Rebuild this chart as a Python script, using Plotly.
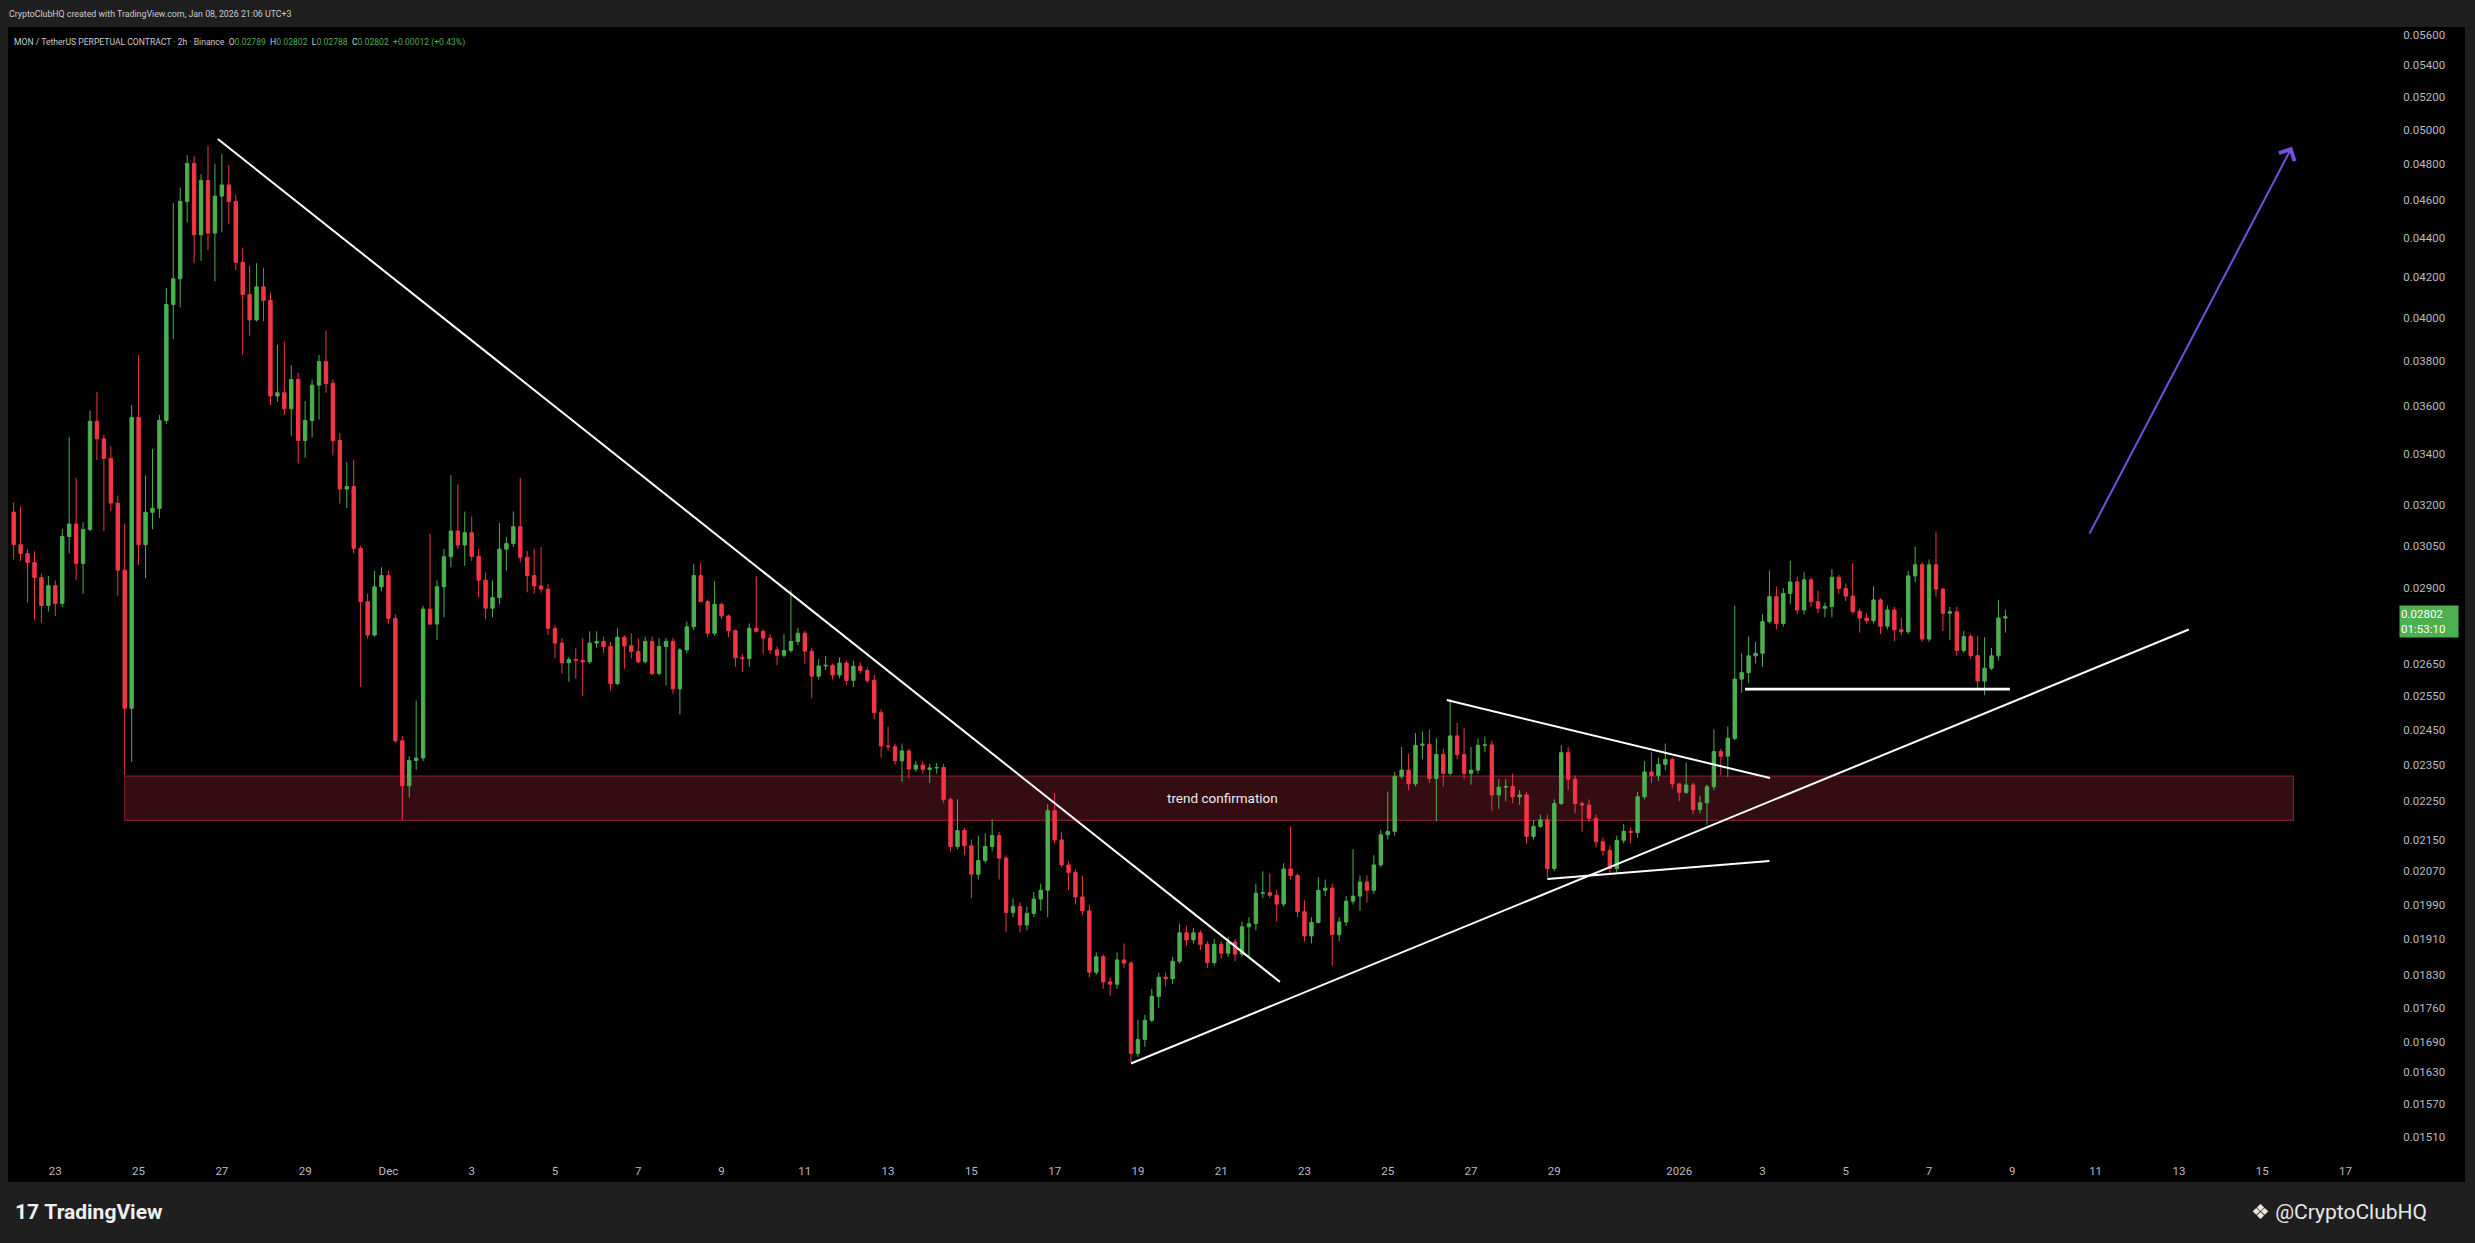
import numpy as np
import pandas as pd
import plotly.graph_objects as go

# MON / USDT perpetual, 4h candles (prices in 1e-5 USDT)
start_time = "2025-11-22 00:00"
first_open = 3174
closes = [
    3053, 3021, 2989, 2936, 2840, 2908, 2847, 3083, 3129, 2986,
    3109, 3536, 3463, 3383, 3208, 2962, 2513, 3552, 3053, 3173,
    3188, 3539, 4063, 4189, 4593, 4806, 4414, 4709, 4423, 4622,
    4684, 4593, 4272, 4111, 3989, 4149, 4083, 3644, 3658, 3589,
    3716, 3456, 3539, 3691, 3796, 3699, 3456, 3262, 3272, 3040,
    2853, 2742, 2904, 2943, 2797, 2418, 2292, 2362, 2369, 2828,
    2778, 2904, 3010, 3103, 3052, 3097, 3011, 2927, 2831, 2867,
    3037, 3057, 3119, 3008, 2943, 2907, 2896, 2764, 2716, 2653,
    2663, 2661, 2656, 2716, 2721, 2705, 2588, 2735, 2707, 2689,
    2656, 2721, 2619, 2705, 2721, 2572, 2694, 2769, 2943, 2853,
    2748, 2844, 2805, 2756, 2669, 2666, 2764, 2754, 2732, 2694,
    2677, 2692, 2721, 2748, 2690, 2611, 2643, 2645, 2615, 2652,
    2598, 2642, 2629, 2598, 2500, 2403, 2401, 2361, 2389, 2338,
    2349, 2337, 2341, 2342, 2255, 2132, 2173, 2134, 2063, 2097,
    2132, 2160, 2103, 1971, 1985, 1942, 1969, 2003, 2024, 2225,
    2149, 2086, 2067, 2008, 1975, 1836, 1870, 1815, 1810, 1863,
    1856, 1667, 1695, 1734, 1784, 1825, 1822, 1860, 1924, 1908,
    1924, 1898, 1857, 1898, 1878, 1903, 1876, 1938, 1945, 2017,
    2018, 2012, 1991, 2076, 2060, 1973, 1917, 1948, 2024, 2029,
    1920, 1949, 1998, 2010, 2044, 2024, 2086, 2162, 2171, 2318,
    2335, 2297, 2405, 2408, 2312, 2379, 2326, 2432, 2379, 2326,
    2335, 2405, 2406, 2267, 2288, 2290, 2262, 2267, 2158, 2184,
    2201, 2077, 2244, 2384, 2310, 2244, 2240, 2205, 2144, 2122,
    2077, 2148, 2171, 2168, 2262, 2330, 2320, 2351, 2365, 2297,
    2274, 2294, 2228, 2246, 2289, 2387, 2374, 2425, 2602, 2622,
    2675, 2683, 2786, 2870, 2780, 2881, 2921, 2825, 2928, 2853,
    2831, 2837, 2937, 2898, 2872, 2820, 2798, 2789, 2859, 2771,
    2825, 2759, 2753, 2942, 2981, 2729, 2981, 2896, 2814, 2819,
    2692, 2737, 2676, 2596, 2636, 2675, 2798, 2802,
]
highs = [
    3210, 3195, 3037, 3029, 2950, 2942, 2926, 3110, 3469, 3306,
    3136, 3581, 3662, 3480, 3432, 3237, 3130, 3605, 3826, 3315,
    3422, 3562, 4144, 4584, 4670, 4852, 4847, 4744, 4909, 4804,
    4860, 4796, 4632, 4347, 4255, 4267, 4244, 4120, 3873, 3887,
    3780, 3746, 3622, 3716, 3826, 3940, 3716, 3487, 3368, 3377,
    3050, 2880, 2960, 2972, 2960, 2810, 2431, 2374, 2536, 2839,
    3094, 2926, 3038, 3316, 3280, 3176, 3157, 3038, 2954, 2926,
    3133, 3082, 3176, 3305, 3030, 3037, 3044, 2913, 2775, 2732,
    2672, 2699, 2732, 2754, 2754, 2737, 2721, 2764, 2742, 2748,
    2732, 2737, 2737, 2732, 2732, 2732, 2700, 2786, 2985, 2990,
    2860, 2924, 2850, 2810, 2760, 2680, 2780, 2940, 2760, 2745,
    2705, 2745, 2893, 2765, 2755, 2700, 2665, 2675, 2650, 2670,
    2660, 2660, 2655, 2640, 2615, 2510, 2459, 2410, 2410, 2395,
    2360, 2360, 2352, 2355, 2352, 2260, 2255, 2180, 2150, 2160,
    2165, 2202, 2170, 2110, 2005, 1995, 1985, 2020, 2040, 2242,
    2271, 2170, 2095, 2075, 2060, 1990, 1880, 1875, 1825, 1880,
    1900, 1860, 1735, 1745, 1800, 1835, 1835, 1870, 1945, 1940,
    1935, 1930, 1905, 1910, 1905, 1915, 1910, 1950, 1960, 2040,
    2070, 2065, 2025, 2090, 2185, 2065, 2000, 1960, 2056, 2050,
    2040, 1960, 2010, 2125, 2060, 2060, 2110, 2175, 2276, 2330,
    2400, 2380, 2440, 2445, 2450, 2425, 2395, 2541, 2470, 2455,
    2400, 2425, 2430, 2418, 2310, 2310, 2325, 2280, 2275, 2200,
    2215, 2215, 2255, 2405, 2400, 2320, 2250, 2255, 2215, 2155,
    2135, 2160, 2190, 2180, 2275, 2360, 2385, 2370, 2410, 2370,
    2300, 2356, 2300, 2265, 2295, 2451, 2395, 2459, 2840, 2683,
    2737, 2720, 2810, 2961, 2905, 2900, 2995, 2940, 2955, 2935,
    2890, 2850, 2965, 2945, 2915, 2987, 2830, 2815, 2905, 2865,
    2840, 2835, 2800, 2960, 3046, 2990, 3000, 3101, 2900, 2835,
    2835, 2755, 2745, 2740, 2735, 2700, 2859, 2825,
]
lows = [
    3000, 2995, 2850, 2793, 2783, 2820, 2805, 2835, 3021, 2927,
    2880, 3102, 3377, 3102, 3177, 2873, 2321, 2358, 2981, 2934,
    3110, 3152, 3524, 3898, 4050, 4480, 4267, 4280, 4335, 4177,
    4428, 4470, 4233, 3826, 3915, 3982, 3982, 3605, 3619, 3562,
    3476, 3363, 3386, 3469, 3543, 3658, 3395, 3206, 3189, 3021,
    2578, 2730, 2737, 2890, 2779, 2412, 2200, 2260, 2336, 2360,
    2775, 2726, 2800, 2972, 3038, 2978, 2995, 2867, 2795, 2800,
    2844, 2960, 3045, 2990, 2885, 2880, 2884, 2742, 2667, 2619,
    2594, 2603, 2551, 2650, 2700, 2684, 2567, 2583, 2634, 2667,
    2651, 2651, 2614, 2614, 2583, 2557, 2495, 2684, 2758, 2850,
    2735, 2740, 2795, 2735, 2640, 2625, 2640, 2750, 2680, 2680,
    2645, 2670, 2685, 2710, 2650, 2543, 2600, 2630, 2600, 2605,
    2585, 2578, 2620, 2590, 2480, 2370, 2390, 2350, 2303, 2312,
    2330, 2325, 2300, 2325, 2245, 2120, 2125, 2110, 2005, 2050,
    2090, 2120, 2050, 1925, 1960, 1925, 1930, 1960, 1975, 1960,
    2140, 2080, 2025, 1990, 1965, 1825, 1830, 1800, 1785, 1800,
    1845, 1649, 1660, 1680, 1730, 1760, 1805, 1810, 1855, 1895,
    1900, 1885, 1845, 1850, 1865, 1870, 1860, 1870, 1870, 1930,
    2005, 2005, 1950, 1985, 2050, 1960, 1905, 1900, 1945, 2010,
    1850, 1905, 1940, 1990, 1975, 1995, 2015, 2080, 2150, 2160,
    2310, 2280, 2290, 2365, 2300, 2196, 2290, 2320, 2365, 2310,
    2295, 2325, 2385, 2225, 2230, 2250, 2245, 2240, 2140, 2150,
    2180, 2055, 2070, 2240, 2280, 2218, 2170, 2195, 2130, 2110,
    2062, 2065, 2140, 2140, 2155, 2255, 2300, 2305, 2335, 2285,
    2250, 2270, 2215, 2218, 2188, 2280, 2320, 2315, 2420, 2560,
    2590, 2650, 2640, 2780, 2760, 2770, 2845, 2810, 2810, 2835,
    2815, 2800, 2800, 2880, 2855, 2810, 2750, 2780, 2780, 2745,
    2760, 2722, 2740, 2745, 2920, 2720, 2720, 2870, 2755, 2725,
    2675, 2685, 2665, 2575, 2553, 2630, 2660, 2750,
]

# axis ticks
price_ticks = [0.056, 0.054, 0.052, 0.050, 0.048, 0.046, 0.044, 0.042, 0.040,
               0.038, 0.036, 0.034, 0.032, 0.0305, 0.029, 0.0265, 0.0255,
               0.0245, 0.0235, 0.0225, 0.0215, 0.0207, 0.0199, 0.0191,
               0.0183, 0.0176, 0.0169, 0.0163, 0.0157, 0.0151]
date_ticks = ["2025-11-23", "2025-11-25", "2025-11-27", "2025-11-29",
              "2025-12-01", "2025-12-03", "2025-12-05", "2025-12-07",
              "2025-12-09", "2025-12-11", "2025-12-13", "2025-12-15",
              "2025-12-17", "2025-12-19", "2025-12-21", "2025-12-23",
              "2025-12-25", "2025-12-27", "2025-12-29", "2026-01-01",
              "2026-01-03", "2026-01-05", "2026-01-07", "2026-01-09",
              "2026-01-11", "2026-01-13", "2026-01-15", "2026-01-17"]
date_labels = ["23", "25", "27", "29", "Dec", "3", "5", "7", "9", "11", "13",
               "15", "17", "19", "21", "23", "25", "27", "29", "2026", "3",
               "5", "7", "9", "11", "13", "15", "17"]

# drawings
zone_times = ["2025-11-24 16:00", "2026-01-15 18:00"]
zone_prices = [0.021993, 0.023185]
zone_label_time = "2025-12-21 01:00"
down_times = ["2025-11-26 21:40", "2025-12-22 09:50"]
down_prices = [0.04947, 0.01815]
up_times = ["2025-12-18 20:00", "2026-01-13 05:45"]
up_prices = [0.01647, 0.02760]
tri_top_times = ["2025-12-26 10:00", "2026-01-03 04:20"]
tri_top_prices = [0.02538, 0.02313]
tri_low_times = ["2025-12-28 20:00", "2026-01-03 04:00"]
tri_low_prices = [0.02051, 0.02096]
support_times = ["2026-01-02 13:55", "2026-01-08 22:35"]
support_prices = [0.02571, 0.02571]
arrow_times = ["2026-01-10 20:00", "2026-01-15 17:15"]
arrow_prices = [0.03088, 0.04901]

last_price = 0.02802

GREEN = "#4caf50"
RED = "#f23645"
AXIS_TXT = "#b8bcc4"

times = pd.date_range(start_time, periods=len(closes), freq="4h")
c = np.array(closes) / 1e5
o = np.r_[first_open, closes[:-1]] / 1e5
h = np.maximum(np.array(highs) / 1e5, np.maximum(o, c))
l = np.minimum(np.array(lows) / 1e5, np.minimum(o, c))

fig = go.Figure()

fig.add_trace(go.Candlestick(
    x=times, open=o, high=h, low=l, close=c,
    increasing=dict(line=dict(color=GREEN, width=1), fillcolor=GREEN),
    decreasing=dict(line=dict(color=RED, width=1), fillcolor=RED),
    whiskerwidth=0,
))

for xs, ys, w in [(down_times, down_prices, 2), (up_times, up_prices, 2),
                  (tri_top_times, tri_top_prices, 2),
                  (tri_low_times, tri_low_prices, 2),
                  (support_times, support_prices, 2.6)]:
    fig.add_trace(go.Scatter(x=xs, y=ys, mode="lines",
                             line=dict(color="#ffffff", width=w),
                             hoverinfo="skip"))

# pixel helpers for things living in the margins
L_M, R_M, T_M, B_M = 10, 85, 27, 88
W, H = 2475, 1243
PW, PH = W - L_M - R_M, H - T_M - B_M


def px(xp):
    return (xp - L_M) / PW


def py(yp):
    return (H - B_M - yp) / PH


legend_txt = (
    "MON / TetherUS PERPETUAL CONTRACT · 2h · Binance\u00a0\u00a0"
    "O<span style='color:#4caf50'>0.02789</span>\u00a0\u00a0"
    "H<span style='color:#4caf50'>0.02802</span>\u00a0\u00a0"
    "L<span style='color:#4caf50'>0.02788</span>\u00a0\u00a0"
    "C<span style='color:#4caf50'>0.02802</span>\u00a0\u00a0"
    "<span style='color:#4caf50'>+0.00012 (+0.43%)</span>"
)

annotations = [
    dict(text="CryptoClubHQ created with TradingView.com, Jan 08, 2026 21:06 UTC+3",
         x=px(7), y=py(14), xref="paper", yref="paper", xanchor="left",
         yanchor="middle", showarrow=False,
         font=dict(size=8.8, color="#c9ccd2")),
    dict(text=legend_txt, x=px(12), y=py(42), xref="paper", yref="paper",
         xanchor="left", yanchor="middle", showarrow=False,
         font=dict(size=8.6, color="#c9ccd2")),
    dict(text="trend confirmation", x=zone_label_time,
         y=np.log10(np.sqrt(zone_prices[0] * zone_prices[1])),
         xref="x", yref="y", showarrow=False,
         font=dict(size=13.5, color="#ececec")),
    dict(text="", x=arrow_times[1], y=np.log10(arrow_prices[1]),
         ax=arrow_times[0], ay=np.log10(arrow_prices[0]),
         xref="x", yref="y", axref="x", ayref="y", showarrow=True,
         arrowhead=4, arrowsize=1.7, arrowwidth=2, arrowcolor="#7650df"),
    dict(text="0.02802<br>01:53:10", x=px(2399), y=np.log10(last_price),
         xref="paper", yref="y", xanchor="left", yanchor="middle", yshift=-5,
         showarrow=False, bgcolor=GREEN, width=56, height=29, align="left",
         borderpad=1, font=dict(size=11.5, color="#ffffff")),
    dict(text="<b>17</b> <b>TradingView</b>", x=px(13), y=py(1212),
         xref="paper", yref="paper", xanchor="left", yanchor="middle",
         showarrow=False, font=dict(size=21, color="#f0f0f0")),
    dict(text="❖ @CryptoClubHQ", x=px(2249), y=py(1212),
         xref="paper", yref="paper", xanchor="left", yanchor="middle",
         showarrow=False, font=dict(size=21, color="#e8e8e8")),
]

shapes = [
    # black chart pane
    dict(type="rect", xref="paper", yref="paper",
         x0=px(8), x1=px(2465), y0=py(1182), y1=py(27),
         fillcolor="#000000", line=dict(width=0), layer="below"),
    # trend confirmation zone, under the candles
    dict(type="rect", xref="x", yref="y",
         x0=zone_times[0], x1=zone_times[1],
         y0=zone_prices[0], y1=zone_prices[1],
         fillcolor="#330d12", line=dict(color="#7d1c24", width=1.2),
         layer="below"),
]

fig.update_layout(
    width=W, height=H,
    margin=dict(l=L_M, r=R_M, t=T_M, b=B_M),
    paper_bgcolor="#1f1f1f",
    plot_bgcolor="rgba(0,0,0,0)",
    showlegend=False,
    font=dict(family="Roboto, 'Noto Sans', sans-serif", color=AXIS_TXT),
    shapes=shapes,
    annotations=annotations,
    xaxis=dict(
        type="date", range=["2025-11-21 21:53", "2026-01-18 01:41"],
        rangeslider=dict(visible=False), showgrid=False, zeroline=False,
        showline=False, tickmode="array", tickvals=date_ticks,
        ticktext=date_labels, ticks="outside", ticklen=5,
        tickcolor="rgba(0,0,0,0)", tickfont=dict(size=11.5, color=AXIS_TXT),
    ),
    yaxis=dict(
        type="log", range=[-1.83056, -1.24780], side="right",
        showgrid=False, zeroline=False, showline=False, tickmode="array",
        tickvals=price_ticks, ticktext=["%.5f" % v for v in price_ticks],
        ticks="outside", ticklen=10, tickcolor="rgba(0,0,0,0)",
        tickfont=dict(size=11.5, color=AXIS_TXT),
    ),
)

fig.write_html(
    "out.html",
    config={"displayModeBar": False},
    post_script="document.body.style.margin='0';"
                "document.body.style.background='#1f1f1f';",
)
